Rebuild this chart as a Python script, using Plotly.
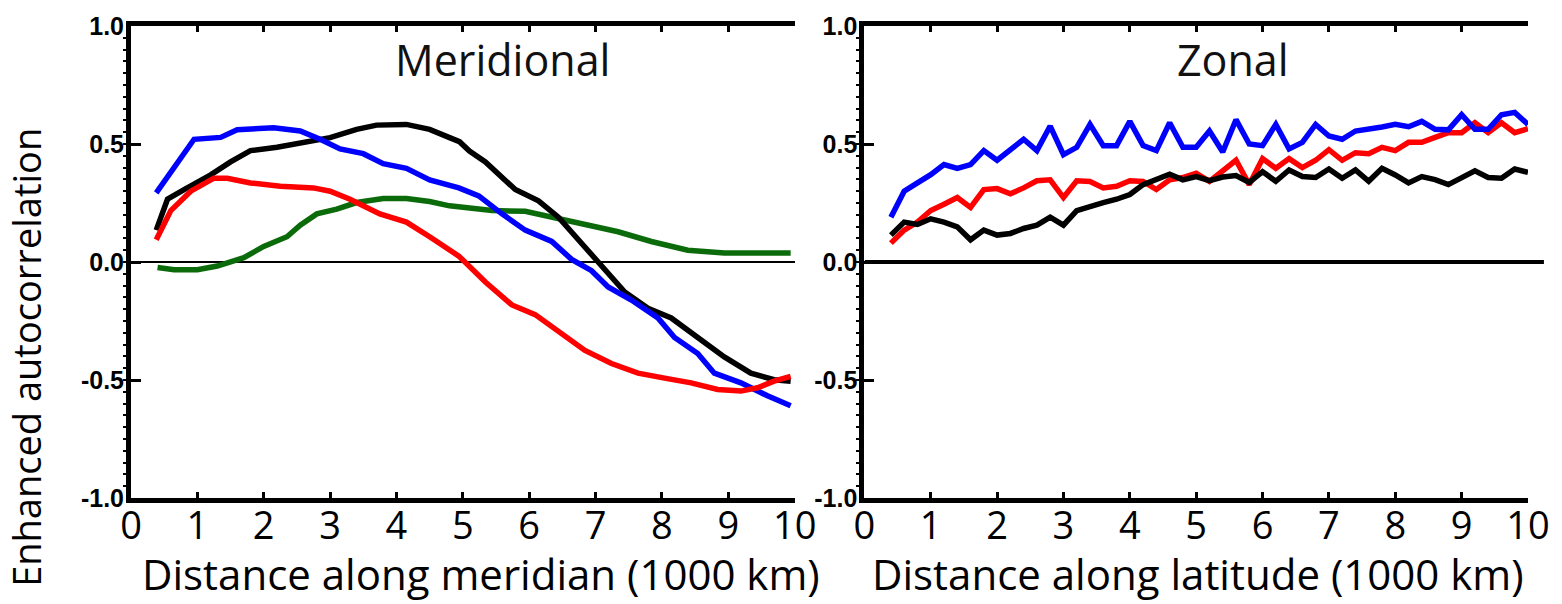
import plotly.graph_objects as go
from plotly.subplots import make_subplots

# ---------------- Meridional panel data ----------------
mer_black_x = [0.38, 0.55, 0.8, 1.2, 1.5, 1.8, 2.2, 2.6, 3.0, 3.4, 3.7, 4.15, 4.5, 4.8, 4.95, 5.1, 5.34, 5.79,
               6.14, 6.44, 6.84, 7.14, 7.44, 7.79, 8.14, 8.54, 8.94, 9.34, 9.69, 9.94]
mer_black_y = [0.135, 0.266, 0.307, 0.369, 0.424, 0.472, 0.486, 0.507, 0.527, 0.562, 0.58, 0.583, 0.562, 0.527,
               0.51, 0.47, 0.424, 0.307, 0.259, 0.19, 0.066, -0.03, -0.127, -0.196, -0.237, -0.32, -0.402,
               -0.471, -0.499, -0.505]

mer_blue_x = [0.38, 0.95, 1.35, 1.6, 2.15, 2.55, 2.85, 3.15, 3.5, 3.8, 4.15, 4.5, 4.94, 5.24, 5.59, 5.94, 6.34,
              6.64, 6.94, 7.19, 7.54, 7.94, 8.19, 8.54, 8.79, 9.19, 9.59, 9.94]
mer_blue_y = [0.293, 0.52, 0.528, 0.56, 0.569, 0.555, 0.52, 0.479, 0.459, 0.417, 0.397, 0.348, 0.314, 0.28,
              0.204, 0.135, 0.087, 0.011, -0.037, -0.106, -0.161, -0.237, -0.32, -0.388, -0.471, -0.512,
              -0.567, -0.609]

mer_red_x = [0.38, 0.6, 0.9, 1.25, 1.45, 1.8, 2.25, 2.75, 3.0, 3.3, 3.75, 4.15, 4.5, 4.94, 5.34, 5.74, 6.09,
             6.44, 6.84, 7.24, 7.64, 8.04, 8.44, 8.84, 9.19, 9.44, 9.69, 9.94]
mer_red_y = [0.094, 0.218, 0.30, 0.355, 0.355, 0.335, 0.321, 0.314, 0.30, 0.266, 0.204, 0.169, 0.107, 0.025,
             -0.085, -0.182, -0.223, -0.292, -0.375, -0.43, -0.471, -0.492, -0.512, -0.54, -0.547, -0.533,
             -0.505, -0.485]

mer_green_x = [0.4, 0.65, 1.0, 1.3, 1.7, 2.0, 2.35, 2.55, 2.8, 3.1, 3.4, 3.8, 4.15, 4.5, 4.8, 5.44, 5.94, 6.34,
               6.79, 7.34, 7.84, 8.39, 8.94, 9.44, 9.94]
mer_green_y = [-0.023, -0.033, -0.033, -0.017, 0.018, 0.066, 0.107, 0.156, 0.204, 0.224, 0.252, 0.269, 0.269,
               0.256, 0.238, 0.218, 0.215, 0.19, 0.162, 0.128, 0.087, 0.05, 0.038, 0.038, 0.038]

# ---------------- Zonal panel data ----------------
zon_x = [0.4, 0.6, 0.8, 1.0, 1.2, 1.4, 1.6, 1.8, 2.0, 2.2, 2.4, 2.6, 2.8, 3.0, 3.2, 3.4, 3.6, 3.8, 4.0, 4.2,
         4.4, 4.6, 4.8, 5.0, 5.2, 5.4, 5.6, 5.8, 6.0, 6.2, 6.4, 6.6, 6.8, 7.0, 7.2, 7.4, 7.6, 7.8, 8.0, 8.2,
         8.4, 8.6, 8.8, 9.0, 9.2, 9.4, 9.6, 9.8, 10.0]
zon_blue_y = [0.19, 0.30, 0.335, 0.37, 0.413, 0.397, 0.413, 0.472, 0.431, 0.475, 0.52, 0.472, 0.576, 0.455,
              0.486, 0.583, 0.493, 0.493, 0.596, 0.493, 0.472, 0.59, 0.486, 0.486, 0.555, 0.466, 0.603, 0.50,
              0.493, 0.583, 0.479, 0.507, 0.583, 0.534, 0.52, 0.555, 0.562, 0.572, 0.583, 0.573, 0.596, 0.562,
              0.56, 0.624, 0.562, 0.562, 0.624, 0.634, 0.583]
zon_red_y = [0.08, 0.135, 0.169, 0.218, 0.245, 0.273, 0.231, 0.307, 0.311, 0.289, 0.314, 0.344, 0.348, 0.273,
             0.344, 0.341, 0.314, 0.321, 0.344, 0.341, 0.307, 0.348, 0.358, 0.376, 0.342, 0.383, 0.431, 0.328,
             0.438, 0.397, 0.438, 0.40, 0.431, 0.476, 0.431, 0.463, 0.459, 0.486, 0.472, 0.507, 0.507, 0.528,
             0.548, 0.548, 0.59, 0.548, 0.59, 0.548, 0.565]
zon_black_y = [0.114, 0.169, 0.159, 0.183, 0.169, 0.149, 0.094, 0.135, 0.114, 0.121, 0.142, 0.156, 0.19, 0.156,
               0.218, 0.238, 0.252, 0.266, 0.286, 0.328, 0.348, 0.372, 0.348, 0.362, 0.345, 0.36, 0.366, 0.337,
               0.383, 0.342, 0.39, 0.362, 0.358, 0.394, 0.355, 0.39, 0.342, 0.397, 0.369, 0.335, 0.362, 0.349,
               0.328, 0.355, 0.386, 0.358, 0.355, 0.394, 0.38]

x_ticks = list(range(0, 11))
y_ticks = [-1.0, -0.5, 0.0, 0.5, 1.0]
y_ticktext = ["-1.0", "-0.5", "0.0", "0.5", "1.0"]

BLACK = "#000000"
BLUE = "#0000ff"
RED = "#ff0000"
GREEN = "#0b6b0b"
LW = 5.5

fig = make_subplots(rows=1, cols=2, horizontal_spacing=0.0499)

# meridional
fig.add_trace(go.Scatter(x=mer_green_x, y=mer_green_y, mode="lines", line=dict(color=GREEN, width=LW)), 1, 1)
fig.add_trace(go.Scatter(x=mer_black_x, y=mer_black_y, mode="lines", line=dict(color=BLACK, width=LW)), 1, 1)
fig.add_trace(go.Scatter(x=mer_blue_x, y=mer_blue_y, mode="lines", line=dict(color=BLUE, width=LW)), 1, 1)
fig.add_trace(go.Scatter(x=mer_red_x, y=mer_red_y, mode="lines", line=dict(color=RED, width=LW)), 1, 1)
# zonal
fig.add_trace(go.Scatter(x=zon_x, y=zon_red_y, mode="lines", line=dict(color=RED, width=LW)), 1, 2)
fig.add_trace(go.Scatter(x=zon_x, y=zon_black_y, mode="lines", line=dict(color=BLACK, width=LW)), 1, 2)
fig.add_trace(go.Scatter(x=zon_x, y=zon_blue_y, mode="lines", line=dict(color=BLUE, width=LW)), 1, 2)

xfont = dict(family="Open Sans", size=38, color="black")
yfont = dict(family="Liberation Sans, Arial", size=25, color="black", weight="bold")

for c in (1, 2):
    fig.update_xaxes(range=[0, 10], tickvals=x_ticks, ticks="inside", ticklen=6, tickwidth=3,
                     tickcolor="black", showline=True, linewidth=5, linecolor="black", mirror="ticks",
                     showgrid=False, zeroline=False, tickfont=xfont, ticklabelstandoff=-10, row=1, col=c)
    fig.update_yaxes(range=[-1, 1], tickvals=y_ticks, ticktext=y_ticktext, ticks="inside", ticklen=10,
                     tickwidth=3, tickcolor="black", showline=True, linewidth=5, linecolor="black",
                     showgrid=False, tickfont=yfont, ticklabelstandoff=-3,
                     minor=dict(dtick=0.05, ticks="outside", ticklen=3, tickwidth=2, tickcolor="black"),
                     row=1, col=c)

fig.update_yaxes(zeroline=True, zerolinecolor="black", zerolinewidth=1.5, row=1, col=1)
fig.update_yaxes(zeroline=False, row=1, col=2)

fig.add_shape(type="line", xref="paper", yref="y2", x0=0.5253, x1=1.0114, y0=0, y1=0,
              line=dict(color="black", width=4))

tfont = dict(family="Open Sans", size=42, color="black")
pfont = dict(family="Open Sans", size=43, color="#111")
fig.add_annotation(text="Meridional", xref="x", yref="y", x=5.6, y=0.86, showarrow=False, font=pfont)
fig.add_annotation(text="Zonal", xref="x2", yref="y2", x=5.55, y=0.86, showarrow=False, font=pfont)
fig.add_annotation(text="Distance along meridian (1000 km)", xref="paper", yref="paper",
                   x=(482 - 131) / 1401, y=(498 - 575) / 484, showarrow=False, font=tfont,
                   xanchor="center", yanchor="middle")
fig.add_annotation(text="Distance along latitude (1000 km)", xref="paper", yref="paper",
                   x=(1201 - 131) / 1401, y=(498 - 575) / 484, showarrow=False, font=tfont,
                   xanchor="center", yanchor="middle")
fig.add_annotation(text="Enhanced autocorrelation", xref="paper", yref="paper", textangle=-90,
                   x=(25 - 131) / 1401, y=(498 - 354) / 484, showarrow=False,
                   font=dict(family="Open Sans", size=38, color="black"),
                   xanchor="center", yanchor="middle")

fig.update_layout(width=1562, height=604, margin=dict(l=131, r=30, t=14, b=106),
                  paper_bgcolor="white", plot_bgcolor="white", showlegend=False)

fig.write_html("out.html")
